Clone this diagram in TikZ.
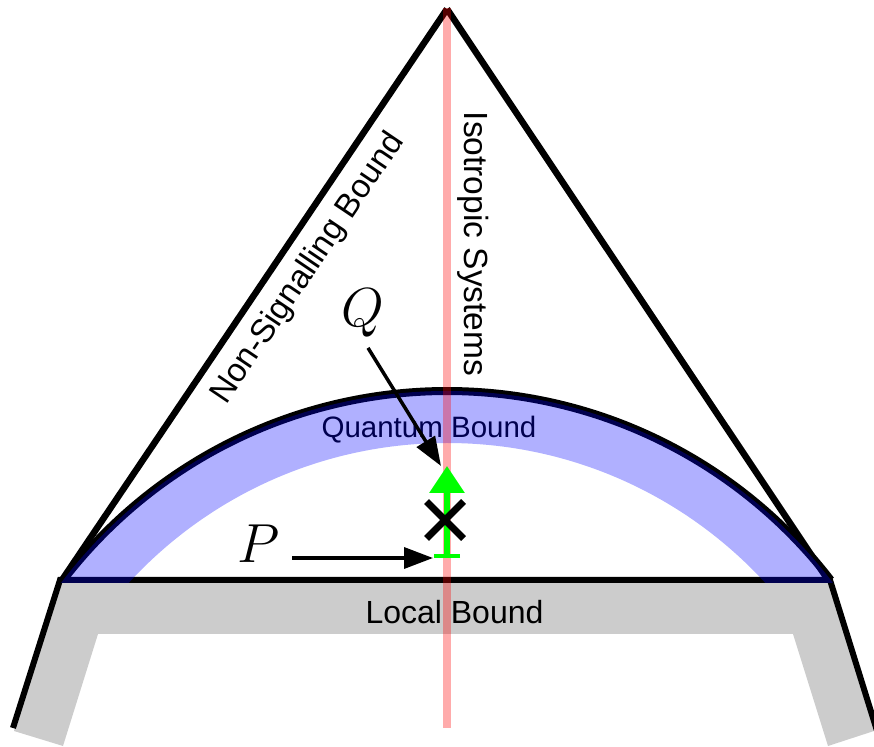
\RequirePackage{fix-cm}
\documentclass[tikz,border=0pt]{standalone}
\usepackage{fontspec}
\newfontfamily\arialfont{Liberation Sans}
\usetikzlibrary{arrows.meta,calc,shapes.misc}
\definecolor{quantblue}{RGB}{0,0,255}
\definecolor{isored}{RGB}{255,0,0}
\definecolor{brightgreen}{RGB}{0,255,0}
\definecolor{localgray}{RGB}{204,204,204}

\begin{document}
\begin{tikzpicture}[
  x=1pt, y=1pt,
  bound/.style={line width=6.5pt},
  boundtext/.style={font=\arialfont\fontsize{#1}{#1}\selectfont, inner sep=0pt},
  boundtext/.default=32,
  mathlbl/.style={font=\fontsize{55}{60}\selectfont, inner sep=0pt},
  pointer/.style={-{Triangle[length=29pt,width=21pt]}, line width=3.5pt}
]
\useasboundingbox (0,0) rectangle (874,746);
\coordinate (bl) at (62,166);
\coordinate (br) at (828,166);
\coordinate (apex) at (447,737);
\coordinate (ctr) at (447,-129);
\coordinate (gbot) at (447,188);
\coordinate (gtop) at (447,280);

\fill[localgray] (60,166) -- (830,166) -- (877,16) -- (828,0) -- (793,112) -- (98,112) -- (63,0) -- (14,15) -- cycle;
\draw[bound, line width=6pt, line join=miter] (13,18) -- (60,166) -- (830,166) -- (878,12);
\draw[bound] (bl) -- (apex);
\draw[bound] (apex) -- (br);
\draw[bound, line width=8pt] (ctr) ++(142.45:484) arc[start angle=142.45, end angle=37.55, radius=484];

\node[boundtext=33, rotate=56, anchor=base] (nsb) at (315.5,472.7) {Non-Signalling Bound};
\node[boundtext=33.5, rotate=-90, anchor=base] (iso) at (464.5,502) {Isotropic Systems};
\node[boundtext=29.5, anchor=base] (qb) at (429,308) {Quantum Bound};
\node[boundtext, anchor=base] (lb) at (454.5,122) {Local Bound};

\begin{scope}
\clip (0,163) rectangle (874,746);
\fill[quantblue, opacity=0.31, even odd rule] (ctr) circle[radius=484] (ctr) circle[radius=432];
\end{scope}
\draw[isored, opacity=0.33, line width=7.5pt] (447,738) -- (447,18);

\draw[brightgreen, line width=6pt, {Bar[width=26pt,line width=3.5pt]}-{Triangle[width=34pt,length=27pt]}] (gbot) -- (gtop);
\node[draw, cross out, line width=7pt, minimum size=30pt, inner sep=0pt] (mark) at (445,226) {};

\node[mathlbl, anchor=base] (P) at (259,183) {$P$};
\node[mathlbl, anchor=base] (Q) at (363,419) {$Q$};
\draw[pointer] ($(P.east |- gbot)+(12,0)$) -- ($(gbot)+(-14,0)$);
\draw[pointer] ($(Q.south)+(5,-10)$) -- ($(gtop)+(-6,0)$);
\end{tikzpicture}
\end{document}
